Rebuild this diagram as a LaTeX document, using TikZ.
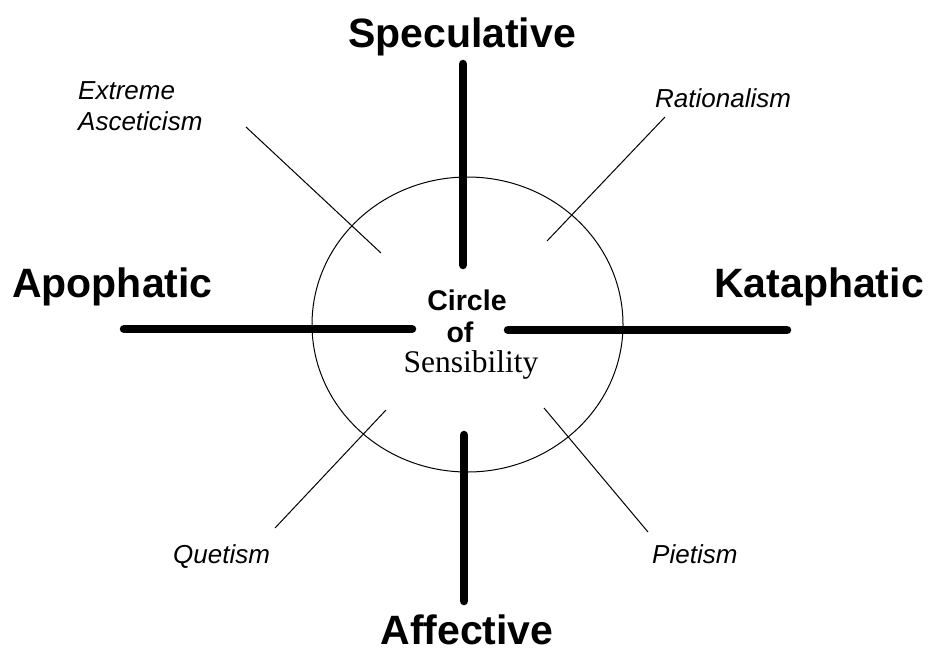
\documentclass[tikz,border=0pt]{standalone}
\usepackage{fontspec}
\setmainfont{Liberation Serif}
\setsansfont{Liberation Sans}
\usepackage{tikz}
\usetikzlibrary{positioning}

\begin{document}
\begin{tikzpicture}[x=1pt,y=-1pt,
    axislabel/.style={font=\sffamily\bfseries\fontsize{41}{44}\selectfont,inner sep=0pt},
    pathlabel/.style={font=\sffamily\itshape\fontsize{26}{31}\selectfont,inner sep=0pt,align=left},
    centrelabel/.style={font=\sffamily\bfseries\fontsize{28.5}{30}\selectfont,inner sep=0pt},
    bar/.style={line width=8.5pt,line cap=round},
    spoke/.style={line width=1pt}]
  \useasboundingbox (0,0) rectangle (928,651);
  % circle of sensibility
  \draw[line width=1pt] (467.5,324.5) ellipse [x radius=155.5,y radius=147.5];
  \node[centrelabel,anchor=base] (circ) at (467,310) {Circle};
  \node[centrelabel,anchor=base] (of) at (460,342) {of};
  \node[font=\rmfamily\fontsize{31.5}{32}\selectfont,inner sep=0pt,anchor=base] (sens) at (471,372) {Sensibility};
  % the four poles
  \node[axislabel,anchor=base] (spec) at (462,47) {Speculative};
  \node[axislabel,anchor=base west] (apo) at (12,297) {Apophatic};
  \node[axislabel,anchor=base east] (kata) at (924,297) {Kataphatic};
  \node[axislabel,anchor=base] (aff) at (467,644) {Affective};
  \coordinate (specend) at (463,64);
  \coordinate (specin) at (463,265);
  \coordinate (affin) at (464,435);
  \coordinate (affend) at (464,601);
  \coordinate (apoend) at (124,329);
  \coordinate (apoin) at (412,329);
  \coordinate (katain) at (508,330);
  \coordinate (kataend) at (787,330);
  \draw[bar] (specend) -- (specin);
  \draw[bar] (affin) -- (affend);
  \draw[bar] (apoend) -- (apoin);
  \draw[bar] (katain) -- (kataend);
  % the four extremes
  \node[pathlabel,anchor=base west] (asc) at (78,130) {Extreme\\Asceticism};
  \node[pathlabel,anchor=base west] (rat) at (655,107) {Rationalism};
  \node[pathlabel,anchor=base west] (quet) at (173,563) {Quetism};
  \node[pathlabel,anchor=base west] (piet) at (652,563) {Pietism};
  \coordinate (ascout) at (246,127);
  \coordinate (ascin) at (381,253);
  \coordinate (ratout) at (665,117);
  \coordinate (ratin) at (547,241);
  \coordinate (quetout) at (275,528);
  \coordinate (quetin) at (386,410);
  \coordinate (pietout) at (648,532);
  \coordinate (pietin) at (544,408);
  \draw[spoke] (ascout) -- (ascin);
  \draw[spoke] (ratout) -- (ratin);
  \draw[spoke] (quetout) -- (quetin);
  \draw[spoke] (pietout) -- (pietin);
\end{tikzpicture}
\end{document}
